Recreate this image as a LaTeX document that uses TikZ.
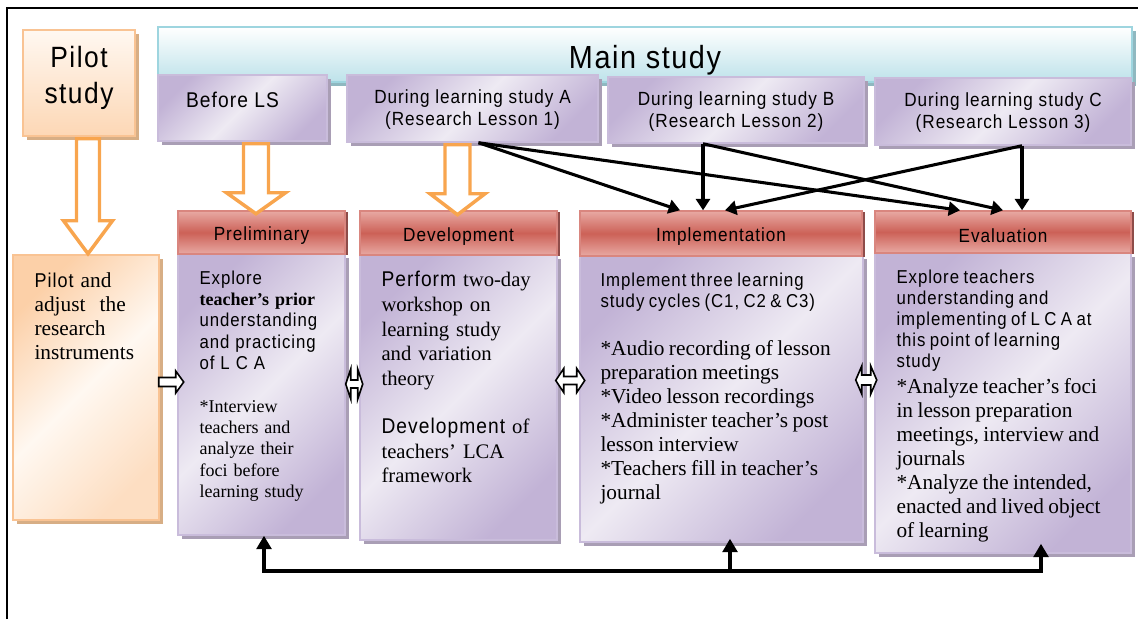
\documentclass[tikz,border=0pt]{standalone}
\usepackage{fontspec}
\setmainfont{Liberation Serif}
\newfontfamily\nsans{Liberation Sans}[FakeStretch=0.9,LetterSpace=5]
\usetikzlibrary{positioning,fit,calc,arrows.meta,shadows}

\definecolor{purpL}{HTML}{EEEAF3}
\definecolor{purpD}{HTML}{C2B3D6}
\definecolor{purpB}{HTML}{C9BCDB}
\definecolor{purpS}{HTML}{A99EB5}
\definecolor{redL}{HTML}{E8A9A3}
\definecolor{redM}{HTML}{CC6157}
\definecolor{redB}{HTML}{D9867F}
\definecolor{redS}{HTML}{8E4C49}
\definecolor{cyanD}{HTML}{BDE2EA}
\definecolor{cyanB}{HTML}{9ED5DF}
\definecolor{cyanS}{HTML}{8FB8C0}
\definecolor{peachL}{HTML}{FFF8F1}
\definecolor{peachD}{HTML}{FCD0A8}
\definecolor{peachB}{HTML}{F9C393}
\definecolor{peachS}{HTML}{D7AE85}
\definecolor{orangeA}{HTML}{F8A54E}

\newcommand\hdfont{\nsans\fontsize{14.3pt}{16.5pt}\selectfont}
\newcommand\sbody{\nsans\fontsize{14pt}{15.75pt}\selectfont}

\begin{document}
\begin{tikzpicture}[%
    x=0.75pt,
    y=-0.75pt,
    >=Triangle,
    box/.style={%
      draw,
      line width=1.1pt,
      inner sep=0pt
    },
    lbl/.style={%
      font=\hdfont,
      align=center
    },
    purpbox/.style={%
      box,
      draw=purpB,
      left color=purpD,
      right color=purpD,
      middle color=purpL,
      shading angle=45,
      drop shadow={shadow xshift=3pt,shadow yshift=-3pt,fill=purpS,opacity=1}
    },
    redhead/.style={%
      box,
      draw=redB,
      top color=redL,
      bottom color=redL,
      middle color=redM,
      drop shadow={shadow xshift=2.5pt,shadow yshift=-1pt,fill=redS,opacity=1}
    },
    peachbox/.style={%
      box,
      draw=peachB,
      drop shadow={shadow xshift=3pt,shadow yshift=-3pt,fill=peachS,opacity=1}
    },
    txt/.style={%
      anchor=north west,
      inner sep=0pt,
      text width=#1,
      align=left
    },
    hollow/.style={%
      draw=orangeA,
      fill=white,
      line width=2.6pt,
      line join=miter
    },
    hollowblk/.style={%
      draw=black,
      fill=white,
      line width=1.2pt
    },
    blk/.style={%
      ->,
      >={Triangle[length=8.5pt,width=10.5pt]},
      line width=2.3pt,
      line join=round
    },
    fb/.style={%
      line width=3.2pt
    }
  ]
    \useasboundingbox (0,0) rectangle (1138,619);

    % frame
    \draw[line width=2pt] (7,619) -- (7,8) -- (1138,8);

    % top row
    \node[peachbox, top color=peachL, bottom color=peachD!85, fit={(23,30) (135,136)},
          label={[lbl, font=\nsans\fontsize{22pt}{27pt}\selectfont, yshift=3.5pt]center:{Pilot\\study}}] (pilot) {};
    \node[box, draw=cyanB, top color=white, bottom color=cyanD,
          drop shadow={shadow xshift=3pt,shadow yshift=-3pt,fill=cyanS,opacity=1},
          fit={(158,27) (1132,82)},
          label={[lbl, font=\nsans\fontsize{24pt}{26pt}\selectfont, yshift=-4pt]center:Main study}] (main) {};
    \node[purpbox, fit={(158,75) (327,141)},
          label={[lbl, font=\nsans\fontsize{16pt}{18pt}\selectfont, xshift=-7.5pt, yshift=6pt]center:Before LS}] (before) {};
    \node[purpbox, fit={(347,75) (598,142)},
          label={[lbl, yshift=-1pt]center:{During learning study A\\(Research Lesson 1)}}] (dA) {};
    \node[purpbox, fit={(608,77) (864,143)},
          label={[lbl, yshift=-1pt]center:{During learning study B\\(Research Lesson 2)}}] (dB) {};
    \node[purpbox, fit={(875,78) (1131,145)},
          label={[lbl, yshift=-1pt]center:{During learning study C\\(Research Lesson 3)}}] (dC) {};

    % phase boxes
    \node[peachbox, left color=peachD, right color=peachD!70, middle color=peachL, shading angle=45,
          fit={(13,255) (159,520)}] (pilotb) {};
    \node[purpbox, fit={(178,254) (345,535)}] (prelb) {};
    \node[purpbox, fit={(360,255) (557,540)}] (devb) {};
    \node[purpbox, fit={(580,255) (863,542)}] (implb) {};
    \node[purpbox, fit={(875,253) (1131,553)}] (evalb) {};
    \node[redhead, fit={(178,211) (345,254)}, label={[lbl, yshift=-2.5pt]center:Preliminary}] (prelh) {};
    \node[redhead, fit={(360,211) (557,255)}, label={[lbl, yshift=-2.5pt]center:Development}] (devh) {};
    \node[redhead, fit={(580,211) (862,256)}, label={[lbl, yshift=-2.5pt]center:Implementation}] (implh) {};
    \node[redhead, fit={(875,211) (1131,253)}, label={[lbl, yshift=-2.5pt]center:Evaluation}] (evalh) {};

    % texts
    \node[txt=110pt, font=\fontsize{16pt}{18pt}\selectfont] (pilott) at ($(pilotb.north west)+(22,18)$)
      {{\nsans\fontsize{15pt}{18pt}\selectfont Pilot} and\\ adjust\ \ the\\ research\\ instruments};
    \node[txt=120pt, font=\fontsize{13.5pt}{16pt}\selectfont] (prelt) at ($(prelb.north west)+(22,17)$)
      {{\sbody Explore}\\ \textbf{teacher’s prior}\\ {\sbody understanding}\\ {\sbody and practicing}\\ {\sbody of L C A}\\[16pt]
       *Interview\\ teachers and\\ analyze their\\ foci before\\ learning study};
    \node[txt=140pt, font=\fontsize{15.5pt}{18.4pt}\selectfont] (devt) at ($(devb.north west)+(22,17)$)
      {{\nsans\fontsize{16pt}{18pt}\selectfont Perform} two-day\\ workshop on\\ learning study\\ and variation\\ theory\\[18pt]
       {\nsans\fontsize{16pt}{18pt}\selectfont Development} of\\ teachers’ LCA\\ framework};
    \node[txt=210pt] (implt) at ($(implb.north west)+(21,18)$)
      {{\sbody Implement three learning\\ study cycles (C1, C2 \& C3)\par}
       \vspace{18.5pt}
       {\fontsize{16pt}{18pt}\selectfont *Audio recording of lesson\\ preparation meetings\\{}*Video lesson recordings\\{}%
        *Administer teacher’s post\\ lesson interview\\{}*Teachers fill in teacher’s\\ journal\par}};
    \node[txt=190pt] (evalt) at ($(evalb.north west)+(22,17)$)
      {{\sbody Explore teachers\\ understanding and\\ implementing of L C A at\\ this point of learning\\ study\par}
       \vspace{1.5pt}
       {\fontsize{16pt}{18pt}\selectfont *Analyze teacher’s foci\\ in lesson preparation\\ meetings, interview and\\ journals\\{}%
        *Analyze the intended,\\ enacted and lived object\\ of learning\par}};

    % orange hollow arrows
    \draw[hollow] ($(pilot.south)+(-2.5,2)$) -- ++(0,82) -- ++(-13,0) -- ++(24.5,33) -- ++(24.5,-33) -- ++(-13,0) -- ++(0,-82) -- cycle;
    \draw[hollow] ($(before.south)+(1,2)$) -- ++(0,49) -- ++(-17,0) -- ++(29.5,21) -- ++(29.5,-21) -- ++(-17,0) -- ++(0,-49) -- cycle;
    \draw[hollow] ($(dA.south)+(-27.5,2)$) -- ++(0,49) -- ++(-15,0) -- ++(27.5,21) -- ++(27.5,-21) -- ++(-15,0) -- ++(0,-49) -- cycle;

    % small hollow arrows between the phases
    \draw[hollowblk] ($(pilotb.east)+(-1,-10)$) -- ++(17,0) -- ++(0,-6.5) -- ++(8,11) -- ++(-8,11) -- ++(0,-6.5) -- ++(-17,0) -- cycle;
    \draw[hollowblk] ($(prelb.east)+(0,-10.5)$) -- ++(5,-15) -- ++(0,11) -- ++(7,0) -- ++(0,-11) -- ++(5,15) -- ++(-5,15) -- ++(0,-11) -- ++(-7,0) -- ++(0,11) -- cycle;
    \draw[hollowblk] ($(devb.east)+(-2,-17)$) -- ++(8,-12) -- ++(0,8) -- ++(13,0) -- ++(0,-8) -- ++(8,12) -- ++(-8,12) -- ++(0,-8) -- ++(-13,0) -- ++(0,8) -- cycle;
    \draw[hollowblk] ($(implb.east)+(-8,-18.5)$) -- ++(6,-14) -- ++(0,9) -- ++(9,0) -- ++(0,-9) -- ++(6,14) -- ++(-6,14) -- ++(0,-9) -- ++(-9,0) -- ++(0,9) -- cycle;

    % lessons to phases
    \coordinate (aout) at ($(dA.south)+(6,0)$);
    \coordinate (bout) at ($(dB.south)+(-33,0)$);
    \coordinate (cout) at ($(dC.south)+(19,0)$);
    \draw[blk] (aout) -- ($(implh.north)+(-41,0)$);
    \draw[blk] (aout) -- ($(evalh.north)+(-43,0)$);
    \draw[blk] (bout) -- (bout |- implh.north);
    \draw[blk] (bout) -- (evalh.north);
    \draw[blk] (cout) -- ($(implh.north)+(4,0)$);
    \draw[blk] (cout) -- (cout |- evalh.north);

    % feedback
    \coordinate (fbA) at (264,571);
    \coordinate (fbB) at (730,571);
    \coordinate (fbC) at (1041,571);
    \draw[fb] ($(fbA)+(-2,0)$) -- ($(fbC)+(2,0)$);
    \draw[fb, -{Triangle[length=10pt,width=11pt]}] (fbA) -- (fbA |- prelb.south);
    \draw[fb, -{Triangle[length=10pt,width=11pt]}] (fbB) -- ($(fbB |- implb.south)+(0,-4)$);
    \draw[fb, -{Triangle[length=10pt,width=11pt]}] (fbC) -- ($(fbC |- evalb.south)+(0,-10)$);
\end{tikzpicture}
\end{document}
